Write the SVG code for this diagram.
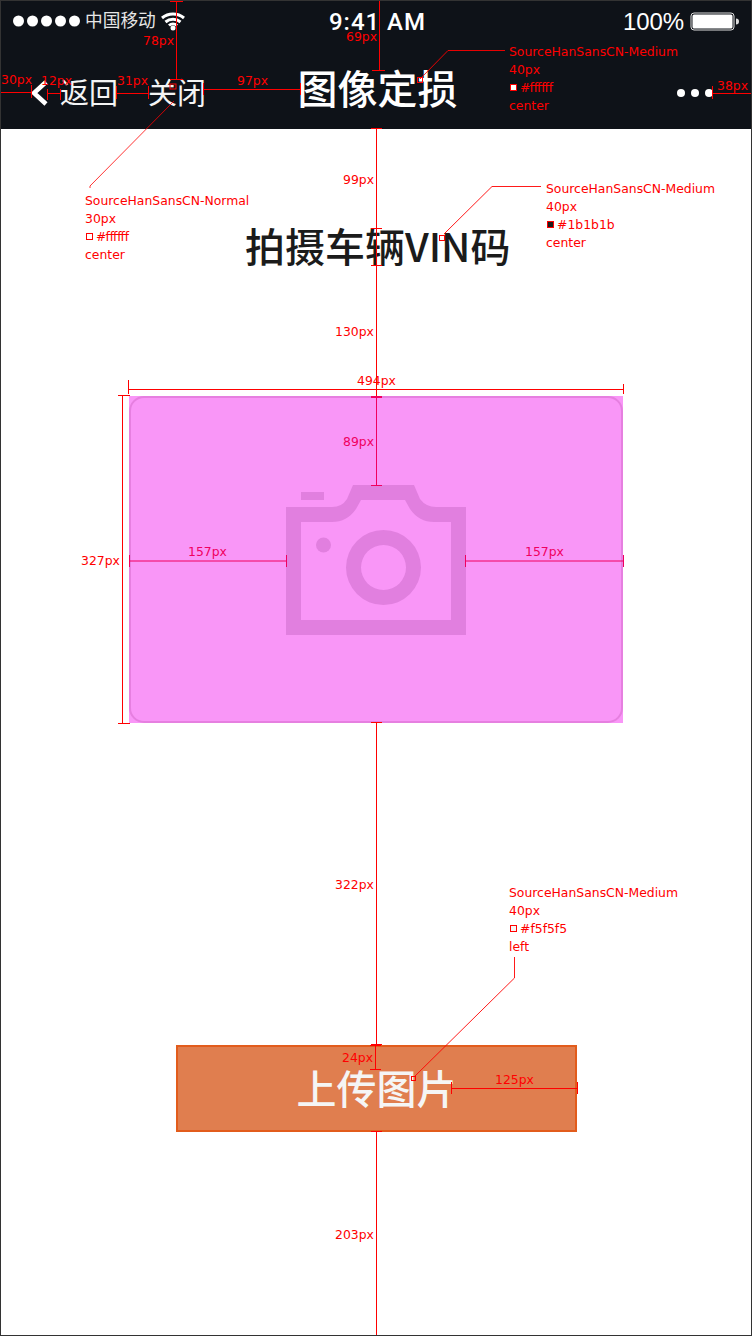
<svg xmlns="http://www.w3.org/2000/svg" width="752" height="1336" viewBox="0 0 752 1336">
<style>
.ann{font-family:"DejaVu Sans",sans-serif;font-size:12.4px;fill:#f00}
.pk{fill:#f0005f}
.cn{font-family:"Noto Sans CJK SC",sans-serif}
.st{font-family:"Liberation Sans",sans-serif;fill:#fff}
.r{stroke:#f00;stroke-width:1;fill:none}
</style>
<rect width="752" height="1336" fill="#fff"/>
<g id="nav-bar">
<rect width="752" height="129" fill="#0e1218"/>
<g fill="#fff"><circle cx="18.500" cy="21" r="5.500"/><circle cx="32.500" cy="21" r="5.500"/><circle cx="46.500" cy="21" r="5.500"/><circle cx="60.500" cy="21" r="5.500"/><circle cx="74.500" cy="21" r="5.500"/></g>
<text class="cn" x="85" y="27" font-size="17.700" fill="#e6e6e6">中国移动</text>
<path d="M162 18a17 17 0 0 1 22 0M165.500 22a11.500 11.500 0 0 1 15 0M169 25.500a6 6 0 0 1 8 0" fill="none" stroke="#fff" stroke-width="3"/>
<circle cx="173" cy="28" r="2.500" fill="#fff"/>
<text class="st" x="329" y="30" font-size="24" style="font-family:Roboto,sans-serif" font-weight="500" textLength="96">9:41 AM</text>
<text class="st" x="623" y="30" font-size="24" textLength="61">100%</text>
<rect x="691" y="13" width="43" height="17" rx="3" fill="none" stroke="#ddd"/>
<rect x="692.500" y="14.500" width="40" height="14" rx="1.500" fill="#fff"/>
<path d="M736 18.500a3 3 0 0 1 0 6z" fill="#ddd"/>
<path d="M46 82L34 93L46 104" fill="none" stroke="#fff" stroke-width="4.500"/>
<text class="cn" x="60" y="104" font-size="29" fill="#f4f4f4">返回</text>
<text class="cn" x="148" y="104" font-size="29" fill="#f4f4f4">关闭</text>
<text class="cn" x="297.500" y="104" font-size="40" font-weight="500" fill="#fff">图像定损</text>
<g fill="#fff"><circle cx="681" cy="93" r="4"/><circle cx="695" cy="93" r="4"/><circle cx="709" cy="93" r="4"/></g>
</g>
<g id="title"><text class="cn" x="245" y="262" font-size="40" font-weight="500" fill="#1b1b1b">拍摄车辆VIN码</text></g>
<g id="photo-card">
<rect x="129" y="396" width="494" height="327" fill="#f996f7"/>
<rect x="130" y="397" width="492" height="325" rx="14" fill="#f996f7" stroke="#e67fe0" stroke-width="2"/>
<g fill="#e17fdf">
<rect x="301" y="492" width="23" height="8"/>
<path fill-rule="evenodd" d="M286 507H332Q342 507 347 499L353 485H414L420 499Q426 507 436 507H466V635H286ZM301 522V620H451V522H434Q419 522 410 509L405 500H361L356 509Q347 522 332 522Z"/>
<circle cx="323.500" cy="545" r="7.500"/>
<path fill-rule="evenodd" d="M383.500 530a37.500 37.500 0 1 1 0 75a37.500 37.500 0 1 1 0-75ZM383.500 545a22.500 22.500 0 1 0 0 45a22.500 22.500 0 1 0 0-45Z"/>
</g>
</g>
<g id="upload-button">
<rect x="177" y="1046" width="399" height="85" fill="#e07e4f" stroke="#e25c1c" stroke-width="2"/>
<text class="cn" x="296.500" y="1104" font-size="40" font-weight="500" fill="#f5f5f5">上传图片</text>
</g>
<g id="connectors" class="r">
<path d="M176.500 0V79M170 1.500H183M170 79.500H183" />
<path d="M379.500 0V70M372 .5H385M372 70.500H385"/>
<path d="M.5 85V98M.5 92.500H32M31.500 85V98"/>
<path d="M47.500 89V100M47.500 93.500H61M60.500 89V100"/>
<path d="M116.500 86V99M116.500 93.500H148M148.500 86V99"/>
<path d="M203.500 83V95M203.500 89.500H301M300.500 83V95"/>
<path d="M712.500 86V99M712.500 93.500H752"/>
<path d="M90 188V186L174 101" stroke-width=".8"/>
<rect x="170" y="84" width="6" height="5"/>
<path d="M420 79L448 50.500H505" stroke-width=".9"/>
<rect x="417.500" y="77.500" width="5" height="5"/>
<path d="M444 234L492 186.500H541" stroke-width=".9"/>
<rect x="439.500" y="235.500" width="5" height="5"/>
<path d="M514.500 957V978L414 1077" stroke-width=".9"/>
<rect x="411.500" y="1076.500" width="4" height="4"/>
<path d="M376.500 129V228M371 128.500H382M371 228.500H382"/>
<path d="M376.500 228V396M371 265.500H382"/>
<path d="M128.500 380V394M128.500 389.500H623M623.500 384V394"/>
<path d="M118 395.500H130M118 723.500H130M122.500 395V723"/>
<path d="M376.500 396V486M371 396.500H382M371 397.500H382M371 485.500H382" stroke="#f0005f"/>
<path d="M129.500 555V567M129.500 561H286M286.500 555V567M465.500 555V567M465.500 561H623M623.500 555V567" stroke="#f0005f"/>
<path d="M376.500 722V1045M371 722.500H382M371 1044.500H382"/>
<path d="M375.500 1045V1069M370 1045.500H381M370 1069.500H381"/>
<path d="M376.500 1131V1336M371 1131.500H382"/>
<path d="M451.500 1082V1094M451.500 1088.500H577M577.500 1082V1094"/>
</g>
<g id="labels">
<text class="ann" x="143" y="45">78px</text>
<text class="ann" x="346" y="41">69px</text>
<text class="ann" x="1" y="84">30px</text>
<text class="ann" x="41" y="85">12px</text>
<text class="ann" x="117" y="85">31px</text>
<text class="ann" x="237" y="85">97px</text>
<text class="ann" x="717" y="90">38px</text>
<text class="ann" x="343" y="184">99px</text>
<text class="ann" x="335" y="336">130px</text>
<text class="ann" x="357" y="385">494px</text>
<text class="ann pk" x="343" y="446">89px</text>
<text class="ann" x="81" y="565">327px</text>
<text class="ann pk" x="188" y="556">157px</text>
<text class="ann pk" x="525" y="556">157px</text>
<text class="ann" x="335" y="889">322px</text>
<text class="ann" x="342" y="1062">24px</text>
<text class="ann" x="495" y="1084">125px</text>
<text class="ann" x="335" y="1239">203px</text>
<text class="ann" x="509" y="56">SourceHanSansCN-Medium</text>
<text class="ann" x="509" y="74">40px</text>
<rect x="510.500" y="84.500" width="6" height="6" fill="#fff" stroke="#f00"/>
<text class="ann" x="520" y="92" textLength="33">#ffffff</text>
<text class="ann" x="509" y="110">center</text>
<text class="ann" x="85" y="205">SourceHanSansCN-Normal</text>
<text class="ann" x="85" y="223">30px</text>
<rect x="86.500" y="233.500" width="6" height="6" fill="#fff" stroke="#f00"/>
<text class="ann" x="96" y="241" textLength="33">#ffffff</text>
<text class="ann" x="85" y="259">center</text>
<text class="ann" x="546" y="193">SourceHanSansCN-Medium</text>
<text class="ann" x="546" y="211">40px</text>
<rect x="547.500" y="221.500" width="6" height="6" fill="#1b1b1b" stroke="#f00"/>
<text class="ann" x="557" y="229">#1b1b1b</text>
<text class="ann" x="546" y="247">center</text>
<text class="ann" x="509" y="897">SourceHanSansCN-Medium</text>
<text class="ann" x="509" y="915">40px</text>
<rect x="510.500" y="925.500" width="6" height="6" fill="#f5f5f5" stroke="#f00"/>
<text class="ann" x="520" y="933">#f5f5f5</text>
<text class="ann" x="509" y="951">left</text>
</g>
<rect id="frame" x=".5" y=".5" width="751" height="1335" fill="none" stroke="#333"/>
</svg>
